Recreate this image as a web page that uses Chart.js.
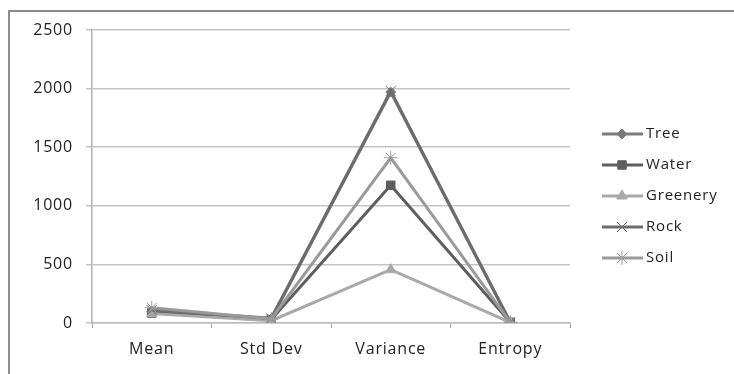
<!DOCTYPE html>
<html>
<head>
<meta charset="utf-8">
<script src="https://cdn.jsdelivr.net/npm/chart.js@4.4.1/dist/chart.umd.min.js"></script>
<style>
  body { margin: 0; background: #fff; }
  #wrap { position: relative; width: 734px; height: 374px; overflow: hidden; }
  #frame { position: absolute; left: 8px; top: 10px; width: 800px; height: 400px;
           border-top: 2px solid #8c8c8c; border-left: 2px solid #8c8c8c; }
  canvas { position: absolute; left: 0; top: 0; }
</style>
</head>
<body>
<div id="wrap">
  <div id="frame"></div>
  <canvas id="chart" width="734" height="374"></canvas>
</div>
<script>
const categories = ['Mean', 'Std Dev', 'Variance', 'Entropy'];
const seriesNames = ['Tree', 'Water', 'Greenery', 'Rock', 'Soil'];
const tree = [100, 35, 1970, 6];
const water = [85, 30, 1175, 6];
const greenery = [80, 20, 455, 5];
const rock = [110, 40, 1980, 6];
const soil = [130, 35, 1410, 6];
const yTicks = [0, 500, 1000, 1500, 2000, 2500];

const colors = ['#7a7a7a', '#5e5e5e', '#a9a9a9', '#6c6c6c', '#9a9a9a'];
const markers = ['rectRot', 'rect', 'triangle', 'crossRot', 'star'];
const markerSize = [5, 6, 6, 7, 7];
const FONT = '"Open Sans", sans-serif';

// wider lettering, closer to the original
const spacing = {
  id: 'spacing',
  beforeDraw(chart) { chart.ctx.letterSpacing = '0.8px'; }
};

// legend drawn as line + marker like the spreadsheet original
const sideLegend = {
  id: 'sideLegend',
  afterDraw(chart) {
    const ctx = chart.ctx;
    ctx.save();
    chart.data.datasets.forEach((ds, i) => {
      const y = 134 + i * 31;
      ctx.strokeStyle = ds.borderColor;
      ctx.fillStyle = ds.borderColor;
      ctx.lineWidth = 3;
      ctx.beginPath();
      ctx.moveTo(602, y);
      ctx.lineTo(643, y);
      ctx.stroke();
      ctx.lineWidth = 1;
      Chart.helpers.drawPoint(ctx, {
        pointStyle: ds.pointStyle,
        radius: ds.pointRadius,
        borderWidth: 1
      }, 622, y);
      ctx.fillStyle = '#222';
      ctx.font = '15px ' + FONT;
      ctx.letterSpacing = '0.8px';
      ctx.textBaseline = 'middle';
      ctx.textAlign = 'left';
      ctx.fillText(seriesNames[i], 646, y);
    });
    ctx.restore();
  }
};

const values = [tree, water, greenery, rock, soil];

new Chart(document.getElementById('chart'), {
  type: 'line',
  data: {
    labels: categories,
    datasets: values.map((v, i) => ({
      label: seriesNames[i],
      data: v,
      borderColor: colors[i],
      backgroundColor: colors[i],
      pointBackgroundColor: colors[i],
      pointBorderColor: colors[i],
      pointStyle: markers[i],
      pointRadius: markerSize[i],
      pointBorderWidth: 1,
      borderWidth: 3,
      tension: 0,
      order: values.length - i
    }))
  },
  options: {
    responsive: false,
    animation: false,
    layout: { padding: { left: 0, right: 164, top: 30, bottom: 0 } },
    plugins: { legend: { display: false }, tooltip: { enabled: false } },
    scales: {
      x: {
        offset: true,
        grid: { offset: true, drawOnChartArea: false, drawTicks: true, tickLength: 5, color: '#a0a0a0' },
        border: { color: '#bdbdbd', width: 1.5 },
        ticks: { color: '#222', font: { family: FONT, size: 16 }, padding: 12, maxRotation: 0 },
        afterFit(scale) { scale.height = 51; }
      },
      y: {
        min: 0,
        max: 2500,
        afterBuildTicks(scale) { scale.ticks = yTicks.map(v => ({ value: v })); },
        grid: { color: '#c4c4c4', lineWidth: 1.5, tickLength: 6 },
        border: { color: '#b0b0b0', width: 1.5 },
        ticks: { color: '#222', font: { family: FONT, size: 16 }, padding: 13, callback: v => String(v) },
        afterFit(scale) { scale.width = 92; }
      }
    }
  },
  plugins: [spacing, sideLegend]
});
</script>
</body>
</html>
